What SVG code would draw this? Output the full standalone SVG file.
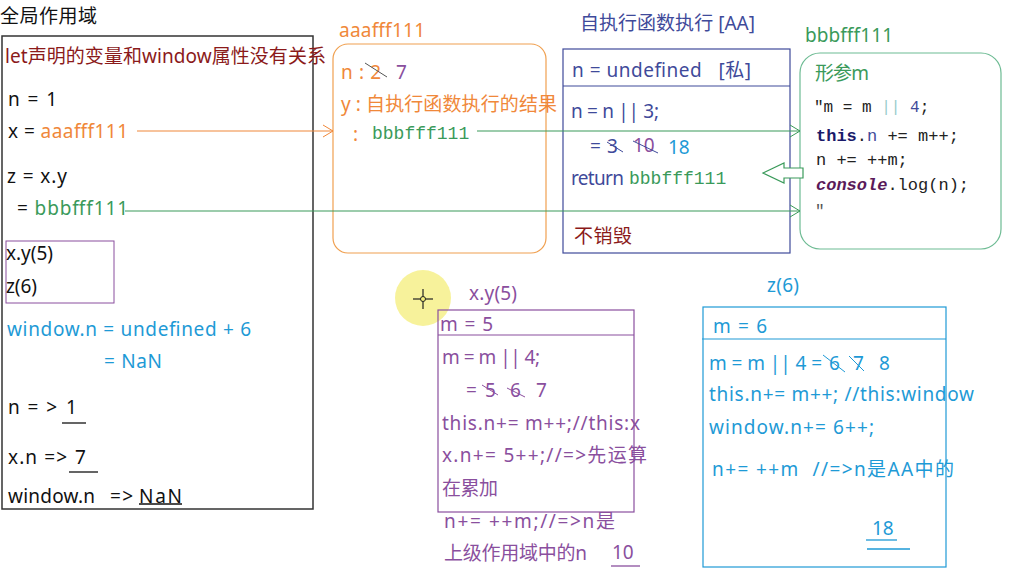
<svg xmlns="http://www.w3.org/2000/svg" width="1015" height="583" viewBox="0 0 1015 583">
<style>
text{font-family:"Noto Sans","Noto Sans CJK SC",sans-serif;font-size:19px;white-space:pre;}
.mono{font-family:"Liberation Mono","DejaVu Sans Mono",monospace;}
.k{fill:#111;}
.red{fill:#8B1A1A;}
.org{fill:#F0883A;}
.grn{fill:#3A9A5A;}
.nav{fill:#3F4A9A;}
.pur{fill:#8A4F9E;}
.blu{fill:#1E9AD6;}
.ul{stroke-width:1.3;fill:none;}
</style>
<defs>
<marker id="chevO" markerWidth="12" markerHeight="14" refX="11" refY="7" orient="auto" markerUnits="userSpaceOnUse"><path d="M1,1 L11,7 L1,13" fill="none" stroke="#F0883A" stroke-width="1"/></marker>
<marker id="chevG" markerWidth="12" markerHeight="14" refX="11" refY="7" orient="auto" markerUnits="userSpaceOnUse"><path d="M1,1 L11,7 L1,13" fill="none" stroke="#3A9A5A" stroke-width="1"/></marker>
</defs>
<rect width="1015" height="583" fill="#fff"/>

<text x="0" y="23" class="k" textLength="97">全局作用域</text>

<g id="global">
<rect x="2" y="36" width="311" height="473" fill="none" stroke="#333" stroke-width="1.5"/>
<text x="5" y="63" class="red" textLength="321">let声明的变量和window属性没有关系</text>
<text x="8" y="106" class="k" textLength="49">n = 1</text>
<text x="8" y="138" class="k" textLength="120">x = <tspan class="org">aaafff111</tspan></text>
<text x="7" y="183" class="k" textLength="60">z = x.y</text>
<text x="17" y="215" class="k" textLength="111">= <tspan class="grn">bbbfff111</tspan></text>
<rect x="6" y="241" width="108" height="62" fill="none" stroke="#8A4F9E" stroke-width="1"/>
<text x="6" y="260" class="k" textLength="47">x.y(5)</text>
<text x="6" y="293" class="k" textLength="31">z(6)</text>
<text x="7" y="336" class="blu" textLength="244">window.n = undefined + 6</text>
<text x="104" y="368" class="blu" textLength="58">= NaN</text>
<text x="8" y="414" class="k" textLength="49">n = &gt;</text>
<text x="66" y="414" class="k">1</text>
<line x1="62" y1="423" x2="86" y2="423" stroke="#111" class="ul"/>
<text x="8" y="464" class="k" textLength="59">x.n =&gt;</text>
<text x="75" y="464" class="k">7</text>
<line x1="69" y1="472" x2="98" y2="472" stroke="#111" class="ul"/>
<text x="8" y="503" class="k" textLength="87">window.n</text>
<text x="110" y="503" class="k" textLength="23">=&gt;</text>
<text x="139" y="503" class="k" textLength="43">NaN</text>
<line x1="139" y1="504" x2="182" y2="504" stroke="#111" class="ul"/>
</g>

<g id="aaafff111">
<text x="339" y="37" class="org" textLength="86">aaafff111</text>
<rect x="333" y="44" width="213" height="209" rx="15" fill="none" stroke="#F0A050" stroke-width="1.2"/>
<text x="341" y="79" class="org" textLength="40">n : 2</text>
<line x1="365" y1="63" x2="387" y2="77" stroke="#555" stroke-width="1"/>
<text x="396" y="79" class="pur">7</text>
<text x="341" y="111" class="org" textLength="216">y : 自执行函数执行的结果</text>
<text x="353" y="141" class="org">:</text>
<text x="372" y="139" class="grn mono" style="font-size:18px">bbbfff111</text>
</g>

<g id="AA">
<text x="580" y="30" class="nav" textLength="175">自执行函数执行 [AA]</text>
<rect x="563" y="49" width="227" height="204" fill="none" stroke="#3F4A9A" stroke-width="1.2"/>
<line x1="563" y1="86" x2="790" y2="86" stroke="#3F4A9A" stroke-width="1.2"/>
<text x="572" y="77" class="nav" textLength="179">n = undefined   [私]</text>
<text x="571" y="118" class="nav" textLength="88">n = n || 3;</text>
<text x="590" y="153" class="nav">=</text>
<text x="607" y="153" class="nav">3</text>
<line x1="607" y1="142" x2="623" y2="152" stroke="#3F4A9A" stroke-width="1"/>
<text x="633" y="152" class="pur">10</text>
<line x1="633" y1="141" x2="658" y2="153" stroke="#3F4A9A" stroke-width="1"/>
<text x="668" y="154" class="blu">18</text>
<text x="571" y="185" class="nav" textLength="53">return</text>
<text x="629" y="184" class="grn mono" style="font-size:18px">bbbfff111</text>
<text x="574" y="243" class="red" textLength="58">不销毁</text>
</g>

<g id="bbbfff111">
<text x="805" y="42" class="grn" textLength="88">bbbfff111</text>
<rect x="800" y="53" width="201" height="196" rx="20" fill="none" stroke="#6DBB93" stroke-width="1.2"/>
<text x="815" y="80" class="grn" textLength="54">形参m</text>
<text x="814" y="112" class="mono" style="font-size:16px" fill="#222">"m = m <tspan fill="#9CC">||</tspan> <tspan class="nav">4</tspan>;</text>
<text x="816" y="141" class="mono" style="font-size:17px" fill="#222"><tspan fill="#1A1A6A" font-weight="bold">this</tspan>.<tspan class="nav">n</tspan> += m++;</text>
<text x="816" y="165" class="mono" style="font-size:17px" fill="#222">n += ++m;</text>
<text x="816" y="190" class="mono" style="font-size:17px" fill="#222"><tspan fill="#5A1A5A" font-weight="bold" font-style="italic">console</tspan>.log(n);</text>
<text x="815" y="216" class="mono" style="font-size:16px" fill="#555">"</text>
</g>

<g id="xy5">
<circle cx="423" cy="298" r="28" fill="#F4EE7A" opacity="0.75"/>
<line x1="413" y1="299" x2="433" y2="299" stroke="#222" stroke-width="1.2"/>
<line x1="423" y1="289" x2="423" y2="309" stroke="#222" stroke-width="1.2"/>
<circle cx="423" cy="299" r="2.5" fill="#F4EE7A" stroke="#222" stroke-width="1"/>
<text x="469" y="300" class="pur" textLength="48">x.y(5)</text>
<rect x="438" y="310" width="196" height="202" fill="none" stroke="#8A4F9E" stroke-width="1.2"/>
<line x1="438" y1="335" x2="634" y2="335" stroke="#8A4F9E" stroke-width="1.2"/>
<text x="440" y="331" class="pur" textLength="53">m = 5</text>
<text x="442" y="364" class="pur" textLength="98">m = m || 4;</text>
<text x="466" y="397" class="pur">=</text>
<text x="485" y="397" class="pur">5</text>
<line x1="482" y1="385" x2="498" y2="395" stroke="#8A4F9E" stroke-width="1"/>
<text x="510" y="397" class="pur">6</text>
<line x1="507" y1="388" x2="525" y2="397" stroke="#8A4F9E" stroke-width="1"/>
<text x="536" y="397" class="pur">7</text>
<text x="442" y="430" class="pur" textLength="198">this.n+= m++;//this:x</text>
<text x="442" y="462" class="pur" textLength="205">x.n+= 5++;//=&gt;先运算</text>
<text x="442" y="495" class="pur" textLength="56">在累加</text>
<text x="444" y="528" class="pur" textLength="171">n+= ++m;//=&gt;n是</text>
<text x="444" y="560" class="pur" textLength="143">上级作用域中的n</text>
<text x="612" y="559" class="pur">10</text>
<line x1="611" y1="566" x2="640" y2="566" stroke="#8A4F9E" class="ul"/>
</g>

<g id="z6">
<text x="767" y="292" class="blu" textLength="32">z(6)</text>
<rect x="703" y="307" width="243" height="260" fill="none" stroke="#1E9AD6" stroke-width="1.2"/>
<line x1="702" y1="339" x2="946" y2="339" stroke="#1E9AD6" stroke-width="1.2"/>
<text x="713" y="333" class="blu" textLength="54">m = 6</text>
<text x="709" y="370" class="blu" textLength="113">m = m || 4 =</text>
<text x="829" y="370" class="blu">6</text>
<line x1="823" y1="355" x2="845" y2="372" stroke="#1E9AD6" stroke-width="1"/>
<text x="853" y="370" class="blu">7</text>
<line x1="849" y1="356" x2="864" y2="371" stroke="#1E9AD6" stroke-width="1"/>
<text x="879" y="370" class="blu">8</text>
<text x="709" y="401" class="blu" textLength="265">this.n+= m++; //this:window</text>
<text x="709" y="434" class="blu" textLength="165">window.n+= 6++;</text>
<text x="712" y="476" class="blu" textLength="242">n+= ++m  //=&gt;n是AA中的</text>
<text x="872" y="535" class="blu">18</text>
<line x1="866" y1="540" x2="897" y2="540" stroke="#1E9AD6" class="ul"/>
<line x1="867" y1="549" x2="910" y2="549" stroke="#1E9AD6" class="ul"/>
</g>

<g id="connectors">
<line x1="137" y1="131" x2="333" y2="131" stroke="#F0883A" stroke-width="1.2" marker-end="url(#chevO)"/>
<line x1="125" y1="211" x2="800" y2="211" stroke="#3A9A5A" stroke-width="1.2" marker-end="url(#chevG)"/>
<line x1="477" y1="131" x2="800" y2="131" stroke="#3A9A5A" stroke-width="1.2" marker-end="url(#chevG)"/>
<path d="M763,173 L784,163 L784,168 L803,168 L803,178 L784,178 L784,183 Z" fill="#fff" stroke="#3A9A5A" stroke-width="1.2"/>
</g>
</svg>
